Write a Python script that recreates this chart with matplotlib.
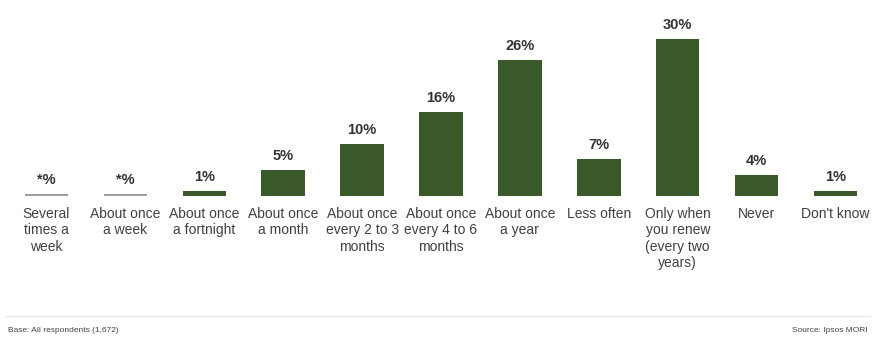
import matplotlib.pyplot as plt

plt.rcParams['font.family'] = ['Liberation Sans', 'DejaVu Sans']

categories = ['Several\ntimes a\nweek', 'About once\na week', 'About once\na fortnight',
              'About once\na month', 'About once\nevery 2 to 3\nmonths',
              'About once\nevery 4 to 6\nmonths', 'About once\na year', 'Less often',
              'Only when\nyou renew\n(every two\nyears)', 'Never', "Don't know"]
values = [0.3, 0.3, 1, 5, 10, 16, 26, 7, 30, 4, 1]
labels = ['*%', '*%', '1%', '5%', '10%', '16%', '26%', '7%', '30%', '4%', '1%']

green = '#3a5928'
colors = ['#a0a0a0' if l.startswith('*') else green for l in labels]

fig = plt.figure(figsize=(8.74, 3.38), dpi=100)
ax = fig.add_axes([7 / 874, 142 / 338, 868 / 874, 176 / 338])

x = range(len(values))
bars = ax.bar(x, values, width=0.55, color=colors)
for b, lab in zip(bars, labels):
    ax.annotate(lab, (b.get_x() + b.get_width() / 2, b.get_height()),
                xytext=(0, 5), textcoords='offset points', ha='center', va='bottom',
                fontsize=10.5, fontweight='bold', color='#333333')

ax.set_xlim(-0.5, len(values) - 0.5)
ax.set_ylim(0, 33.6)
ax.set_xticks(list(x))
ax.set_xticklabels(categories, fontsize=10, color='#404040', linespacing=1.2)
ax.tick_params(axis='x', length=0, pad=8)
ax.set_yticks([])
for s in ax.spines.values():
    s.set_visible(False)

# footer rule and notes
fig.add_artist(plt.Line2D([5 / 874, 870 / 874], [1 - 316 / 338] * 2,
                          color='#e6e6e6', lw=1))
fig.text(8 / 874, 1 - 330 / 338, 'Base: All respondents (1,672)', fontsize=6,
         color='#444444', va='center')
fig.text(868 / 874, 1 - 330 / 338, 'Source: Ipsos MORI', fontsize=6,
         color='#444444', va='center', ha='right')

fig.savefig('out.png', dpi=100)
